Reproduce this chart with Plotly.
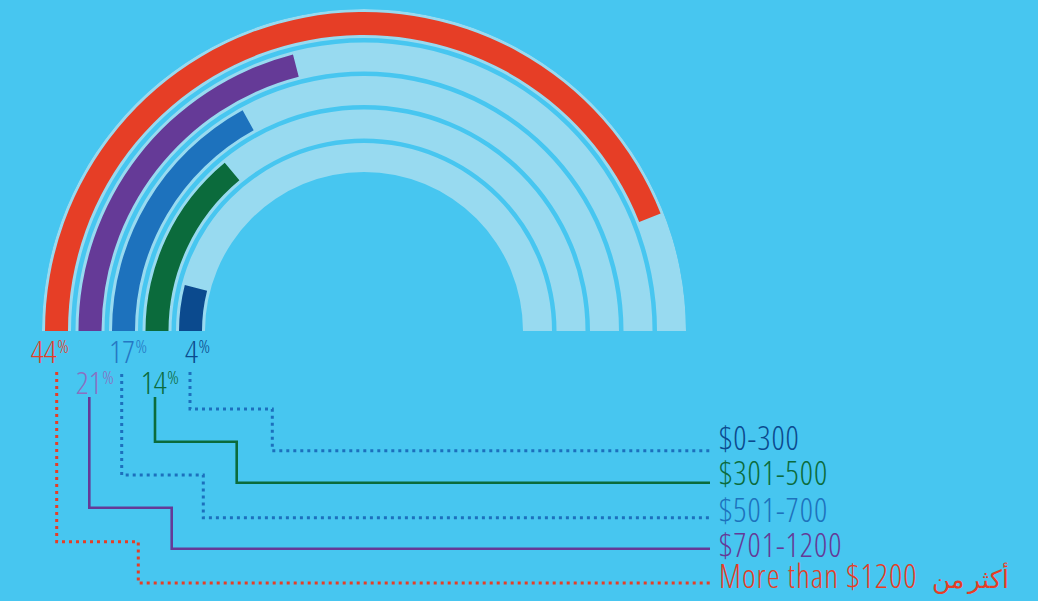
import plotly.graph_objects as go

# ---------------- data ----------------
categories = ["$0-300", "$301-500", "$501-700", "$701-1200", "More than $1200  أكثر من"]
values = [4, 14, 17, 21, 44]          # percent
colors = ["#0B4A8E", "#0B6B3C", "#1D72BD", "#653A97", "#E63E26"]
pct_colors = ["#0B4A8E", "#0B6B3C", "#2577C4", "#8A70C2", "#E63E26"]
line_colors = ["#1C70BD", "#0B6B3C", "#1C70BD", "#653A97", "#E63E26"]
line_dash = ["dotted", "solid", "dotted", "solid", "dotted"]
scale_max = 50  # a half circle represents 50 %

# ---------------- layout constants (pixels) ----------------
W, H = 1038, 601
BG = "#47C6F0"
TRACK = "#98DAF0"
cx, cy, R = 364, 331, 322
ring_outer = [188, 221.5, 255, 288.5, 322]
ring_w = 29
inset = 3
FONT = "Open Sans, DejaVu Sans, sans-serif"
NUM_FS, PCT_FS, LEG_FS, AR_FS = 32, 19, 32.5, 25

def fx(x):
    return x / W

def fy(y):
    return 1 - y / H

def label_markup(text):
    # give the Arabic run its own (smaller) size, Latin part untouched
    for i, ch in enumerate(text):
        if "\u0600" <= ch <= "\u06FF":
            return text[:i] + f'<span style="font-size:{AR_FS}px">' + text[i:] + "</span>"
    return text

fig = go.Figure()

# background tracks
fig.add_trace(go.Barpolar(
    r=[ring_w] * len(categories),
    base=[ro - ring_w for ro in ring_outer],
    theta=[90] * len(categories),
    width=[180] * len(categories),
    marker=dict(color=TRACK, line=dict(width=0)),
    hoverinfo="skip", showlegend=False,
))

# value bars
spans = [v / scale_max * 180 for v in values]
fig.add_trace(go.Barpolar(
    r=[ring_w - 2 * inset] * len(categories),
    base=[ro - ring_w + inset for ro in ring_outer],
    theta=[s / 2 for s in spans],
    width=spans,
    marker=dict(color=colors, line=dict(width=0)),
    text=categories, hovertemplate="%{text}<extra></extra>",
    showlegend=False,
))

# ---------------- leader lines ----------------
leaders = [
    (190, 372, 409, 272.3, 450.7),
    (155, 397, 441.7, 236.7, 482.7),
    (121.7, 374, 475, 203.3, 517.8),
    (89.3, 397, 507.7, 171.7, 548.8),
    (56.7, 372, 541.7, 138.3, 583),
]
x_end = 710
for (x0, y0, y1, x2, y3), lc, ld in zip(leaders, line_colors, line_dash):
    fig.add_trace(go.Scatter(
        x=[x0, x0, x2, x2, x_end], y=[y0, y1, y1, y3, y3],
        mode="lines",
        line=dict(color=lc, width=3 if ld == "dotted" else 2.6,
                  dash="3px,4px" if ld == "dotted" else "solid"),
        hoverinfo="skip", showlegend=False, cliponaxis=False,
    ))

# ---------------- percentage labels ----------------
num_right = [198, 166.7, 135, 101.7, 56.7]
num_base = [363.3, 394, 363.3, 394, 363.3]
pct_base = [352.7, 384, 352.7, 384, 352.7]

fig.add_trace(go.Scatter(
    x=num_right, y=[b - 0.25 * NUM_FS for b in num_base],
    mode="text", text=[str(v) for v in values], textposition="middle left",
    textfont=dict(family=FONT, size=NUM_FS, color=pct_colors, weight=300),
    hoverinfo="skip", showlegend=False, cliponaxis=False,
))
fig.add_trace(go.Scatter(
    x=[x + 0.5 for x in num_right], y=[b - 0.25 * PCT_FS for b in pct_base],
    mode="text", text=["%"] * len(values), textposition="middle right",
    textfont=dict(family=FONT, size=PCT_FS, color=pct_colors, weight=300),
    hoverinfo="skip", showlegend=False, cliponaxis=False,
))

# ---------------- legend labels ----------------
leg_base = [449.5, 485, 521.7, 556.7, 588.3]
fig.add_trace(go.Scatter(
    x=[719] * len(categories), y=[b - 0.25 * LEG_FS for b in leg_base],
    mode="text", text=[label_markup(c) for c in categories], textposition="middle right",
    textfont=dict(family=FONT, size=LEG_FS, color=colors, weight=300),
    hoverinfo="skip", showlegend=False, cliponaxis=False,
))

fig.update_layout(
    width=W, height=H, autosize=False,
    margin=dict(l=0, r=0, t=0, b=0),
    paper_bgcolor=BG, plot_bgcolor="rgba(0,0,0,0)",
    xaxis=dict(range=[0, W], domain=[0, 1], visible=False, fixedrange=True),
    yaxis=dict(range=[H, 0], domain=[0, 1], visible=False, fixedrange=True),
    polar=dict(
        domain=dict(x=[fx(cx - R), fx(cx + R)], y=[fy(cy), fy(cy - R)]),
        sector=[0, 180],
        bgcolor="rgba(0,0,0,0)",
        bargap=0,
        radialaxis=dict(range=[0, R], visible=False, showgrid=False),
        angularaxis=dict(rotation=180, direction="clockwise", visible=False,
                         showgrid=False, thetaunit="degrees"),
    ),
)

post = """
document.body.style.margin = '0';
document.body.style.background = '#47C6F0';
var st = document.createElement('style');
st.innerHTML = 'text { font-stretch: 75%; }';
document.head.appendChild(st);
var trs = document.querySelectorAll('.scatterlayer .trace');
var last = trs[trs.length - 1];
last.querySelectorAll('text').forEach(function (t) {
    t.style.letterSpacing = '1px';
    t.querySelectorAll('tspan').forEach(function (ts) {
        if (ts.style.fontSize) { ts.style.letterSpacing = '0px'; }
    });
});
"""
fig.write_html("out.html", post_script=post, config={"displayModeBar": False})
